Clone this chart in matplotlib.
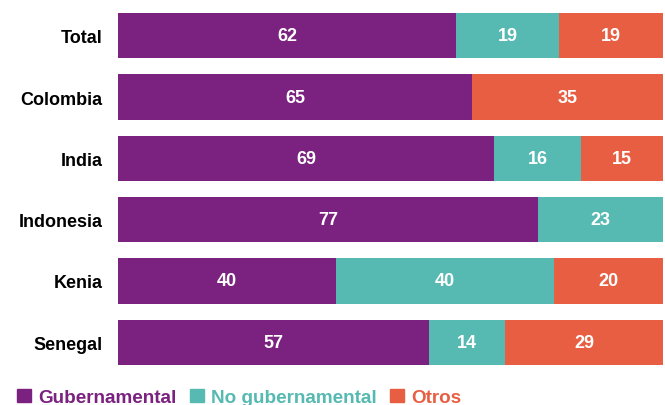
import matplotlib.pyplot as plt
from matplotlib.patches import Patch

plt.rcParams['font.family'] = ['Liberation Sans', 'DejaVu Sans']

paises = ['Total', 'Colombia', 'India', 'Indonesia', 'Kenia', 'Senegal']
gubernamental = [62, 65, 69, 77, 40, 57]
no_gubernamental = [19, 0, 16, 23, 40, 14]
otros = [19, 35, 15, 0, 20, 29]

series = ['Gubernamental', 'No gubernamental', 'Otros']
colores = ['#7B2180', '#56BAB2', '#E85E42']

fig = plt.figure(figsize=(6.65, 4.06), dpi=100)
ax = fig.add_axes([118 / 665, 40 / 406, 545 / 665, 352 / 406])

y = list(range(len(paises)))
left = [0] * len(paises)
for vals, col in zip([gubernamental, no_gubernamental, otros], colores):
    bars = ax.barh(y, vals, left=left, height=0.74, color=col)
    for b, v in zip(bars, vals):
        if v > 0:
            ax.text(b.get_x() + b.get_width() / 2, b.get_y() + b.get_height() / 2,
                    str(v), ha='center', va='center', color='white',
                    fontsize=13, fontweight='bold')
    left = [l + v for l, v in zip(left, vals)]

ax.set_xlim(0, 100)
ax.set_ylim(5 + 0.37, -0.37)
ax.set_yticks(y)
ax.set_yticklabels(paises, fontsize=13, fontweight='bold')
ax.tick_params(axis='y', length=0, pad=11)
ax.set_xticks([])
for s in ax.spines.values():
    s.set_visible(False)

handles = [Patch(color=c) for c in colores]
fig.legend(handles, series, loc='lower left', bbox_to_anchor=(0.012, -0.026),
           ncol=3, frameon=False, labelcolor=colores, borderpad=0,
           handlelength=0.72, handleheight=0.72, handletextpad=0.4,
           columnspacing=0.7, prop={'size': 13.6, 'weight': 'bold'})

fig.savefig('out.png', dpi=100)
